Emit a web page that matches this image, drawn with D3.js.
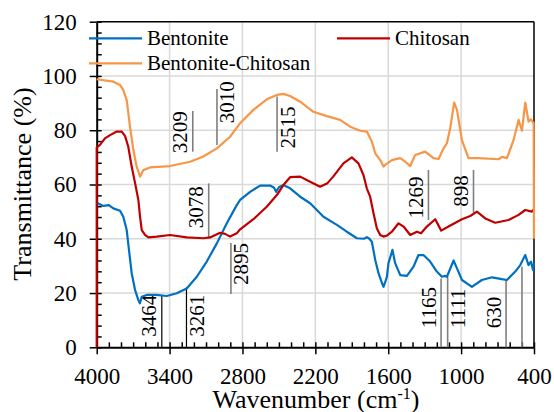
<!DOCTYPE html>
<html><head><meta charset="utf-8">
<script src="https://cdn.jsdelivr.net/npm/d3@7"></script>
<style>
body{margin:0;background:#fff;}
svg text, svg tspan{font-family:"Liberation Serif",serif;}
</style></head>
<body><svg id="c" width="554" height="412" font-family="Liberation Serif"></svg>
<script>
// ---- data ----
const xTicks = [4000, 3400, 2800, 2200, 1600, 1000, 400];
const yTicks = [0, 20, 40, 60, 80, 100, 120];
const seriesNames = ["Bentonite", "Chitosan", "Bentonite-Chitosan"];
const seriesColors = ["#0070C0", "#C00000", "#F79646"];

const bentWn = [4000,3945,3900,3863,3808,3781,3753,3731,3712,3684,3657,3645,3629,3588,3506,3423,3341,3259,3176,3094,3011,2929,2847,2819,2737,2655,2572,2540,2523,2500,2463,2408,2325,2243,2133,2023,1941,1858,1800,1776,1755,1735,1707,1680,1650,1639,1625,1611,1598,1565,1543,1501,1446,1392,1351,1310,1255,1200,1158,1130,1117,1062,1034,993,911,829,746,664,623,554,513,472,445,425,408,400];
const bentT  = [53.3,52.1,52.4,51.2,50.3,48.1,43.2,34.6,27.3,21.1,17.4,16.2,18.6,19.3,19.3,18.9,19.9,21.7,26.0,31.6,38.3,45.7,52.4,54.3,57.3,59.6,59.6,58.8,57.3,59.0,59.8,58.6,55.5,53.1,48.1,45.1,42.6,40.2,40.0,40.6,40.0,38.9,32.2,27.3,23.5,22.3,24.0,26.0,31.0,35.9,31.0,26.6,26.3,29.7,34.0,34.0,31.6,27.9,26.0,26.3,26.0,32.0,29.1,24.8,22.3,24.8,25.8,25.1,24.8,27.9,30.3,34.0,30.3,31.6,28.5,31.0];

const chitWn = [4000,4000,3973,3932,3890,3835,3794,3767,3740,3712,3684,3657,3643,3629,3602,3575,3506,3396,3259,3122,3067,2984,2943,2902,2847,2819,2710,2600,2517,2463,2408,2325,2243,2161,2100,2053,1969,1900,1845,1804,1776,1749,1721,1694,1666,1639,1611,1570,1515,1474,1419,1364,1330,1282,1213,1164,1104,993,925,870,801,719,609,527,472,417,400];
const chitT  = [0,73.7,74.6,77.0,78.2,79.5,79.5,77.9,73.9,66.6,60.5,54.3,48.1,43.2,41.4,40.5,40.8,41.4,40.5,40.2,40.5,42.2,41.8,40.8,42.0,43.5,47.2,51.8,56.1,59.8,62.7,62.9,61.0,59.2,60.5,62.9,67.8,70.0,67.8,63.5,58.5,55.5,49.4,43.9,41.4,40.8,41.2,42.6,45.7,44.5,41.4,42.6,42.0,44.5,47.2,43.0,44.5,47.2,48.4,50.0,47.5,45.9,46.9,48.8,50.6,50.0,51.0];

const bcWn = [4000,3863,3808,3781,3753,3726,3698,3671,3643,3616,3561,3396,3231,3122,3011,2902,2819,2710,2600,2517,2463,2408,2325,2216,2105,1996,1913,1831,1776,1735,1707,1666,1639,1625,1570,1501,1460,1419,1378,1296,1227,1186,1145,1117,1090,1057,1034,993,939,856,692,664,623,568,527,499,472,445,425,403,400];
const bcT  = [98.8,97.9,96.7,94.8,91.1,81.3,72.7,66.6,62.9,65.3,66.3,66.8,68.4,70.3,73.3,77.6,82.6,87.5,91.4,93.0,93.4,92.6,90.5,86.8,85.2,83.8,81.3,79.8,79.5,75.8,71.5,69.0,66.6,67.2,69.0,69.7,68.4,66.8,70.9,72.1,69.7,69.4,73.3,75.2,80.7,90.2,87.5,76.3,69.7,69.7,69.3,70.2,69.7,76.4,83.8,79.8,90.2,83.2,84.0,82.6,40.0];

// annotation markers: wavenumber, bottom & top of line (transmittance), label
const markWn    = [3464, 3261, 3209, 3010, 2515, 3078, 2895, 1269, 898, 1165, 1111, 630, 499];
const markLo    = [0, 0, 72.1, 74.6, 72.1, 40.2, 19.6, 46.9, 49.6, 0, 0, 0, 0];
const markHi    = [19.3, 22.1, 87.1, 95.2, 92.4, 60.4, 38.4, 65.4, 65.4, 25.4, 26.0, 24.8, 29.7];
const markLabel = ["3464", "3261", "3209", "3010", "2515", "3078", "2895", "1269", "898", "1165", "1111", "630", ""];
// layout of marker labels (side of line, transmittance where rotated text starts)
const markSide  = ["l", "r", "l", "r", "r", "l", "r", "l", "l", "l", "r", "l", "l"];
const markTxtAt = [3.9, 3.9, 71.5, 82.6, 73.3, 43.9, 23.0, 47.5, 51.8, 7.0, 7.0, 7.0, 0];
const markDark  = [true, true, false, false, false, false, false, false, false, false, false, false, false];

// ---- drawing ----
const svg = d3.select("#c");
const L = 96.7, R = 534, T = 21.7, B = 347.3;
const x = d3.scaleLinear().domain([4000, 400]).range([L, R]);
const y = d3.scaleLinear().domain([0, 120]).range([B, T]);

// gridlines
const grid = svg.append("g");
grid.selectAll("line.h").data(yTicks.filter(v => v > 0 && v < 120)).join("line")
  .attr("x1", L).attr("x2", R).attr("y1", d => y(d)).attr("y2", d => y(d))
  .attr("stroke", "#d9d9d9").attr("stroke-width", 1.5);
grid.selectAll("line.v").data(xTicks.filter(v => v < 4000 && v > 400)).join("line")
  .attr("y1", T).attr("y2", B).attr("x1", d => x(d)).attr("x2", d => x(d))
  .attr("stroke", "#d9d9d9").attr("stroke-width", 1.5);

// frame top & right
svg.append("line").attr("x1", L).attr("x2", R).attr("y1", T).attr("y2", T).attr("stroke", "#000").attr("stroke-width", 1.5);
svg.append("line").attr("x1", R).attr("x2", R).attr("y1", T).attr("y2", B).attr("stroke", "#000").attr("stroke-width", 1.5);

// axes
function styleAxis(g) {
  g.attr("font-family", null);
  g.select(".domain").attr("stroke", "#000").attr("stroke-width", 2);
  g.selectAll(".tick line").attr("stroke", "#000").attr("stroke-width", 1.5);
}
const fmt = d3.format("d");
const yAxisG = svg.append("g").attr("transform", `translate(${L},0)`)
  .call(d3.axisLeft(y).tickValues(yTicks).tickFormat(fmt).tickSize(7).tickSizeOuter(0).tickPadding(13));
styleAxis(yAxisG);
yAxisG.selectAll("text").attr("font-size", 23).attr("fill", "#000");
// inner ticks (major + minor)
const yMinor = d3.range(0, 121, 4);
const yIn = svg.append("g").attr("transform", `translate(${L},0)`)
  .call(d3.axisRight(y).tickValues(yMinor).tickSize(5).tickFormat(""));
yIn.select(".domain").remove();
yIn.selectAll(".tick line").attr("stroke", "#000").attr("stroke-width", 1.5);

const xAxisG = svg.append("g").attr("transform", `translate(0,${B})`)
  .call(d3.axisBottom(x).tickValues(xTicks).tickFormat(fmt).tickSize(7).tickSizeOuter(0));
styleAxis(xAxisG);
xAxisG.selectAll("text").attr("font-size", 23).attr("fill", "#000").attr("y", 37).attr("dy", 0);
const xMinor = d3.range(4000, 399, -100);
const xIn = svg.append("g").attr("transform", `translate(0,${B})`)
  .call(d3.axisTop(x).tickValues(xMinor).tickSize(5).tickFormat(""));
xIn.select(".domain").remove();
xIn.selectAll(".tick line").attr("stroke", "#000").attr("stroke-width", 1.5);

// axis titles
const xt = svg.append("text").attr("x", 316).attr("y", 408).attr("text-anchor", "middle")
  .attr("font-size", 26).attr("fill", "#000");
xt.append("tspan").text("Wavenumber (cm");
xt.append("tspan").attr("dy", -9).attr("font-size", 16).text("-1");
xt.append("tspan").attr("dy", 9).text(")");
svg.append("text").attr("transform", "translate(31,184) rotate(-90)").attr("text-anchor", "middle")
  .attr("font-size", 26).attr("fill", "#000").text("Transmittance (%)");

// marker lines
const marks = markWn.map((w, i) => ({w, lo: markLo[i], hi: markHi[i], lab: markLabel[i], side: markSide[i], at: markTxtAt[i], dark: markDark[i]}));
const mg = svg.append("g");
mg.selectAll("line").data(marks).join("line")
  .attr("x1", d => x(d.w)).attr("x2", d => x(d.w))
  .attr("y1", d => y(d.lo)).attr("y2", d => y(d.hi))
  .attr("stroke", d => d.dark ? "#000" : "#7f7f7f")
  .attr("stroke-width", d => d.dark ? 1.2 : 1.6);
mg.selectAll("text").data(marks.filter(d => d.lab)).join("text")
  .attr("transform", d => `translate(${d.side === "l" ? x(d.w) - 5.5 : x(d.w) + 17.5},${y(d.at)}) rotate(-90)`)
  .attr("font-size", 21).attr("fill", "#000").text(d => d.lab);

// series
const line = d3.line().x(d => x(d[0])).y(d => y(d[1]));
const series = [
  d3.zip(bentWn, bentT),
  d3.zip(chitWn, chitT),
  d3.zip(bcWn, bcT)
];
series.forEach((s, i) => {
  svg.append("path").datum(s).attr("d", line).attr("fill", "none")
    .attr("stroke", seriesColors[i]).attr("stroke-width", 2.2).attr("stroke-linejoin", "round");
});

// legend
const legPos = [[89, 38.3], [337, 38.3], [89, 63.3]];
seriesNames.forEach((n, i) => {
  const [lx, ly] = legPos[i];
  svg.append("line").attr("x1", lx).attr("x2", lx + 53).attr("y1", ly).attr("y2", ly)
    .attr("stroke", seriesColors[i]).attr("stroke-width", 2.2);
  svg.append("text").attr("x", lx + 58).attr("y", ly + 7).attr("font-size", 21).attr("fill", "#000").text(n);
});
</script></body></html>
